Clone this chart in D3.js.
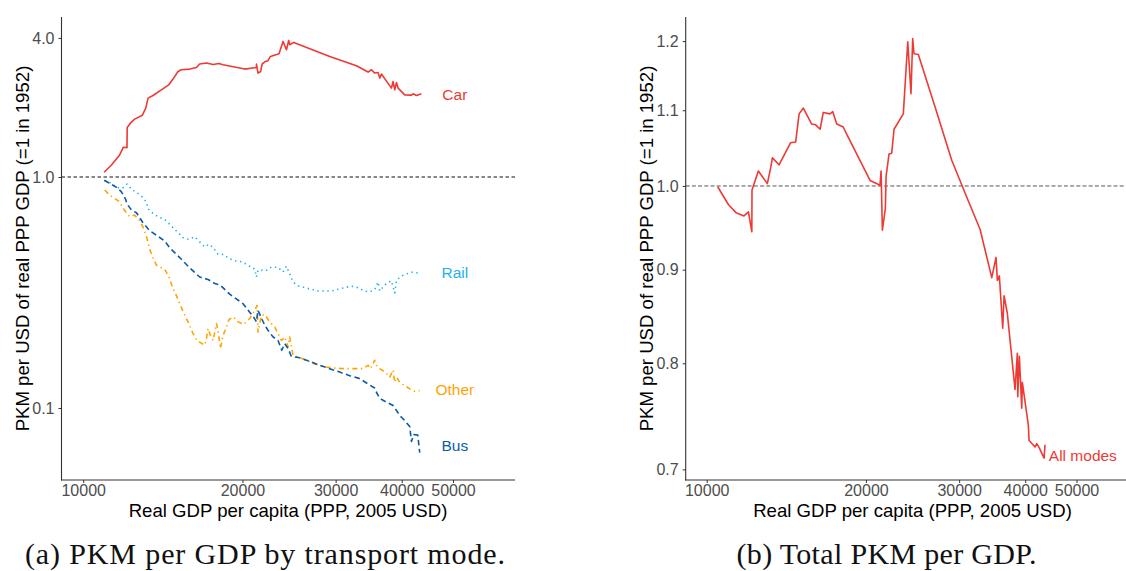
<!DOCTYPE html>
<html>
<head>
<meta charset="utf-8">
<script src="https://cdn.jsdelivr.net/npm/d3@7"></script>
<style>
  html, body { margin: 0; padding: 0; background: #fff; }
  svg { display: block; }
</style>
</head>
<body>
<svg id="chart" width="1126" height="571"></svg>
<script>
// ---- Data: [real GDP per capita (PPP, 2005 USD), PKM per USD of GDP (=1 in 1952)] ----
const carSeries = [
  [10950,1.048],[11310,1.127],[11720,1.246],[11910,1.346],[12100,1.340],[12110,1.637],[12280,1.710],
  [12510,1.780],[12940,1.852],[13130,1.986],[13260,2.195],[13550,2.253],[14050,2.385],[14510,2.507],
  [14780,2.654],[15110,2.863],[15330,2.912],[15900,2.932],[16370,2.980],[16600,3.083],[17100,3.114],
  [17600,3.071],[18060,3.101],[18380,3.062],[20200,2.932],[21250,2.980],[21260,3.083],[21400,2.815],
  [21650,2.863],[21780,3.083],[22040,3.154],[22350,3.187],[22590,3.326],[23450,3.417],[23860,3.864],
  [24220,3.556],[24460,3.902],[24570,3.739],[25000,3.825],[29240,3.326],[32840,3.031],[34550,2.846],
  [35060,2.912],[35560,2.818],[36090,2.835],[36350,2.680],[36620,2.790],[38250,2.426],[38520,2.591],
  [38800,2.385],[39100,2.565],[39370,2.426],[40530,2.268],[41730,2.262],[42020,2.291],[42650,2.253],
  [43580,2.291]
];
const railSeries = [
  [10980,0.964],[11310,0.939],[11560,0.902],[11860,0.893],[12100,0.932],[12340,0.884],[12640,0.855],
  [12920,0.821],[13170,0.779],[13260,0.729],[13550,0.696],[13910,0.669],[14260,0.655],[14570,0.625],
  [14890,0.593],[15170,0.570],[15490,0.542],[15850,0.537],[16250,0.551],[16600,0.524],[16970,0.498],
  [17290,0.512],[17650,0.491],[17980,0.463],[18430,0.462],[18860,0.444],[19420,0.433],[20000,0.429],
  [20580,0.412],[21100,0.399],[21250,0.369],[21400,0.395],[21720,0.395],[22130,0.392],[22690,0.408],
  [23350,0.406],[23860,0.388],[24220,0.411],[24490,0.387],[24930,0.351],[25470,0.338],[26230,0.332],
  [27790,0.321],[29460,0.321],[31220,0.332],[32140,0.337],[33070,0.332],[34050,0.321],[34800,0.318],
  [35560,0.326],[36090,0.351],[36350,0.321],[36880,0.334],[37430,0.346],[38250,0.355],[38800,0.315],
  [39100,0.357],[39660,0.369],[40530,0.379],[42020,0.388],[43260,0.382]
];
const busSeries = [
  [10960,0.968],[11220,0.939],[11560,0.902],[11810,0.863],[12030,0.800],[12100,0.764],[12340,0.719],
  [12610,0.700],[12970,0.634],[13360,0.585],[13750,0.560],[14260,0.528],[14570,0.494],[15220,0.448],
  [15900,0.404],[16600,0.369],[17220,0.360],[17730,0.346],[18170,0.340],[18920,0.311],[20050,0.283],
  [20640,0.260],[20940,0.250],[21250,0.236],[21400,0.265],[21720,0.245],[22040,0.228],[22350,0.217],
  [22850,0.203],[23350,0.196],[23730,0.178],[24040,0.190],[24390,0.181],[24750,0.167],[25660,0.165],
  [26800,0.159],[28000,0.153],[29240,0.148],[30540,0.143],[31900,0.138],[33320,0.134],[34550,0.127],
  [35560,0.122],[35830,0.117],[36350,0.110],[37430,0.106],[38520,0.1025],[39100,0.0975],[39660,0.0928],
  [40530,0.0883],[41420,0.0831],[41730,0.0716],[42150,0.0767],[42890,0.0764],[43260,0.0641]
];
const otherSeries = [
  [10980,0.878],[11220,0.835],[11470,0.808],[11720,0.781],[11890,0.732],[12030,0.707],[12240,0.673],
  [12510,0.684],[12790,0.646],[13010,0.599],[13200,0.542],[13360,0.486],[13550,0.448],[13750,0.415],
  [14260,0.398],[14530,0.369],[14740,0.334],[14960,0.311],[15220,0.283],[15510,0.256],[15780,0.236],
  [16130,0.210],[16410,0.196],[16970,0.187],[17100,0.200],[17220,0.221],[17400,0.206],[17600,0.196],
  [17860,0.232],[17980,0.217],[18170,0.181],[18380,0.206],[18650,0.224],[18860,0.241],[19200,0.248],
  [19620,0.236],[20110,0.230],[20640,0.244],[21100,0.265],[21310,0.278],[21400,0.213],[21720,0.252],
  [22040,0.254],[22520,0.236],[23020,0.224],[23350,0.210],[23700,0.196],[24040,0.203],[24390,0.184],
  [24570,0.203],[24930,0.169],[25470,0.166],[26230,0.162],[27190,0.156],[28400,0.151],[29660,0.149],
  [30980,0.148],[32360,0.148],[33800,0.148],[34550,0.153],[34910,0.148],[35560,0.161],[35830,0.153],
  [36350,0.148],[36880,0.145],[37430,0.141],[37970,0.136],[38520,0.146],[38800,0.129],[39100,0.136],
  [39660,0.129],[40530,0.125],[41420,0.121],[42330,0.118],[43260,0.119]
];
const totalSeries = [
  [10490,0.999],[10990,0.977],[11360,0.967],[11760,0.963],[11990,0.968],[12170,0.944],[12180,0.995],
  [12520,1.019],[13020,1.003],[13210,1.023],[13310,1.036],[13700,1.027],[14410,1.056],[14730,1.057],
  [14950,1.095],[15230,1.103],[15790,1.081],[16070,1.080],[16380,1.074],[16610,1.097],[17100,1.095],
  [17310,1.098],[17610,1.081],[18120,1.077],[18310,1.070],[20360,1.007],[21260,1.001],[21360,1.019],
  [21480,0.946],[21760,0.972],[21830,1.012],[22110,1.041],[22370,1.042],[22600,1.074],[23530,1.095],
  [23990,1.199],[24330,1.123],[24510,1.204],[24650,1.181],[25120,1.180],[27010,1.105],[29050,1.033],
  [30920,0.988],[32860,0.947],[34580,0.891],[35230,0.914],[35430,0.888],[35740,0.893],[36270,0.836],
  [36480,0.871],[37000,0.852],[38270,0.774],[38650,0.810],[38720,0.767],[38990,0.807],[39400,0.756],
  [39500,0.781],[40550,0.740],[40670,0.726],[41750,0.720],[42060,0.723],[42540,0.719],[43420,0.710],
  [43600,0.722]
];

const modeNames = ["Car", "Rail", "Other", "Bus"];
const totalName = "All modes";
// label anchor points [GDP, value] for the direct line labels
const modeLabelPoints = [[50400, 2.28], [50400, 0.384], [50400, 0.120], [50400, 0.0688]];
const totalLabelPoint = [51400, 0.712];

const xTicks = [10000, 20000, 30000, 40000, 50000];
const yTicksModes = [0.1, 1, 4];
const yTicksTotal = [0.7, 0.8, 0.9, 1.0, 1.1, 1.2];
const referenceLevel = 1;

const xTitle = "Real GDP per capita (PPP, 2005 USD)";
const yTitle = "PKM per USD of real PPP GDP (=1 in 1952)";
const captions = ["(a) PKM per GDP by transport mode.", "(b) Total PKM per GDP."];

// ---- Styles ----
const SANS = "'Liberation Sans', Arial, sans-serif";
const SERIF = "'Liberation Serif', 'Times New Roman', serif";
const styles = {
  Car:   { color: "#EE3A34", dash: null },
  Rail:  { color: "#1FB2EA", dash: "1.4,3.6" },
  Other: { color: "#FFA500", dash: "5,3.5,1.4,3.5" },
  Bus:   { color: "#0B5CA6", dash: "5.5,3.5" },
  "All modes": { color: "#EE3A34", dash: null }
};

const svg = d3.select("#chart");
svg.append("rect").attr("width", 1126).attr("height", 571).attr("fill", "#fff");

function drawPanel(opts) {
  const g = svg.append("g").style("font-family", SANS);
  const { x, y, left, right, top, bottom } = opts;

  // reference line at 1
  g.append("line")
    .attr("x1", left).attr("x2", right)
    .attr("y1", y(referenceLevel)).attr("y2", y(referenceLevel))
    .attr("stroke", opts.refColor).attr("stroke-width", 1)
    .attr("stroke-dasharray", opts.refDash);

  // series lines with direct labels
  const line = d3.line().x(d => x(d[0])).y(d => y(d[1]));
  opts.series.forEach(s => {
    const st = styles[s.name];
    g.append("path")
      .datum(s.data)
      .attr("fill", "none")
      .attr("stroke", st.color)
      .attr("stroke-width", 1.6)
      .attr("stroke-linejoin", "round")
      .attr("stroke-dasharray", st.dash)
      .attr("d", line);
    g.append("text")
      .attr("x", x(s.label[0]))
      .attr("y", y(s.label[1]))
      .attr("dy", "0.35em")
      .attr("text-anchor", "middle")
      .style("font-size", "15.5px")
      .attr("fill", st.color)
      .text(s.name);
  });

  // axes
  const yAxis = d3.axisLeft(y).tickValues(opts.yTicks).tickFormat(d3.format(".1f"))
    .tickSizeInner(3).tickSizeOuter(0).tickPadding(4);
  const gy = g.append("g").attr("transform", `translate(${left},0)`).call(yAxis);
  const xAxis = d3.axisBottom(x).tickValues(xTicks).tickFormat(d3.format("d"))
    .tickSizeInner(3).tickSizeOuter(0).tickPadding(2);
  const gx = g.append("g").attr("transform", `translate(0,${bottom})`).call(xAxis);
  [gx, gy].forEach(a => {
    a.attr("font-family", null).attr("font-size", null);
    a.select(".domain").remove();
    a.selectAll(".tick line").attr("stroke", "#333");
    a.selectAll(".tick text").attr("fill", "#4D4D4D")
      .style("font-size", "16px").style("font-family", SANS);
  });

  // axis lines
  g.append("line").attr("x1", left).attr("x2", left).attr("y1", top).attr("y2", bottom + 0.5)
    .attr("stroke", "#333").attr("stroke-width", 1.1);
  g.append("line").attr("x1", left - 0.5).attr("x2", right).attr("y1", bottom).attr("y2", bottom)
    .attr("stroke", "#333").attr("stroke-width", 1.1);

  // axis titles
  g.append("text")
    .attr("x", opts.xTitleX).attr("y", 517)
    .attr("text-anchor", "middle").style("font-size", "18.6px").attr("fill", "#000")
    .text(xTitle);
  g.append("text")
    .attr("transform", `translate(${left - 39},${(top + bottom) / 2}) rotate(-90)`)
    .attr("dy", "0.35em")
    .attr("text-anchor", "middle").style("font-size", "18.6px").attr("fill", "#000")
    .text(yTitle);

  // caption below the panel
  g.append("text")
    .attr("x", opts.captionX).attr("y", 564)
    .attr("text-anchor", "middle")
    .style("font-family", SERIF)
    .style("font-size", "30px").attr("fill", "#111")
    .attr("textLength", opts.captionLength).attr("lengthAdjust", "spacing")
    .text(opts.caption);
}

// Panel (a): PKM per GDP by mode
const xA = d3.scaleLog().domain([10000, 50000]).range([83.2, 453.0]);
const yA = d3.scaleLog().domain([0.1, 1]).range([408, 177]);
const modeData = { Car: carSeries, Rail: railSeries, Other: otherSeries, Bus: busSeries };
drawPanel({
  x: xA, y: yA, left: 61.5, right: 515, top: 17, bottom: 480,
  refColor: "#111", refDash: "3.5,2.5",
  series: modeNames.map((n, i) => ({ name: n, data: modeData[n], label: modeLabelPoints[i] })),
  yTicks: yTicksModes, xTitleX: 288, captionX: 265, captionLength: 480, caption: captions[0]
});

// Panel (b): total PKM per GDP
const xB = d3.scaleLog().domain([10000, 50000]).range([706.7, 1076.5]);
const yB = d3.scaleLog().domain([0.7, 1.2]).range([469.4, 41.1]);
drawPanel({
  x: xB, y: yB, left: 685.7, right: 1126, top: 17, bottom: 480,
  refColor: "#555", refDash: "4,2.2",
  series: [{ name: totalName, data: totalSeries, label: totalLabelPoint }],
  yTicks: yTicksTotal, xTitleX: 912.5, captionX: 886.5, captionLength: 300, caption: captions[1]
});
</script>
</body>
</html>
